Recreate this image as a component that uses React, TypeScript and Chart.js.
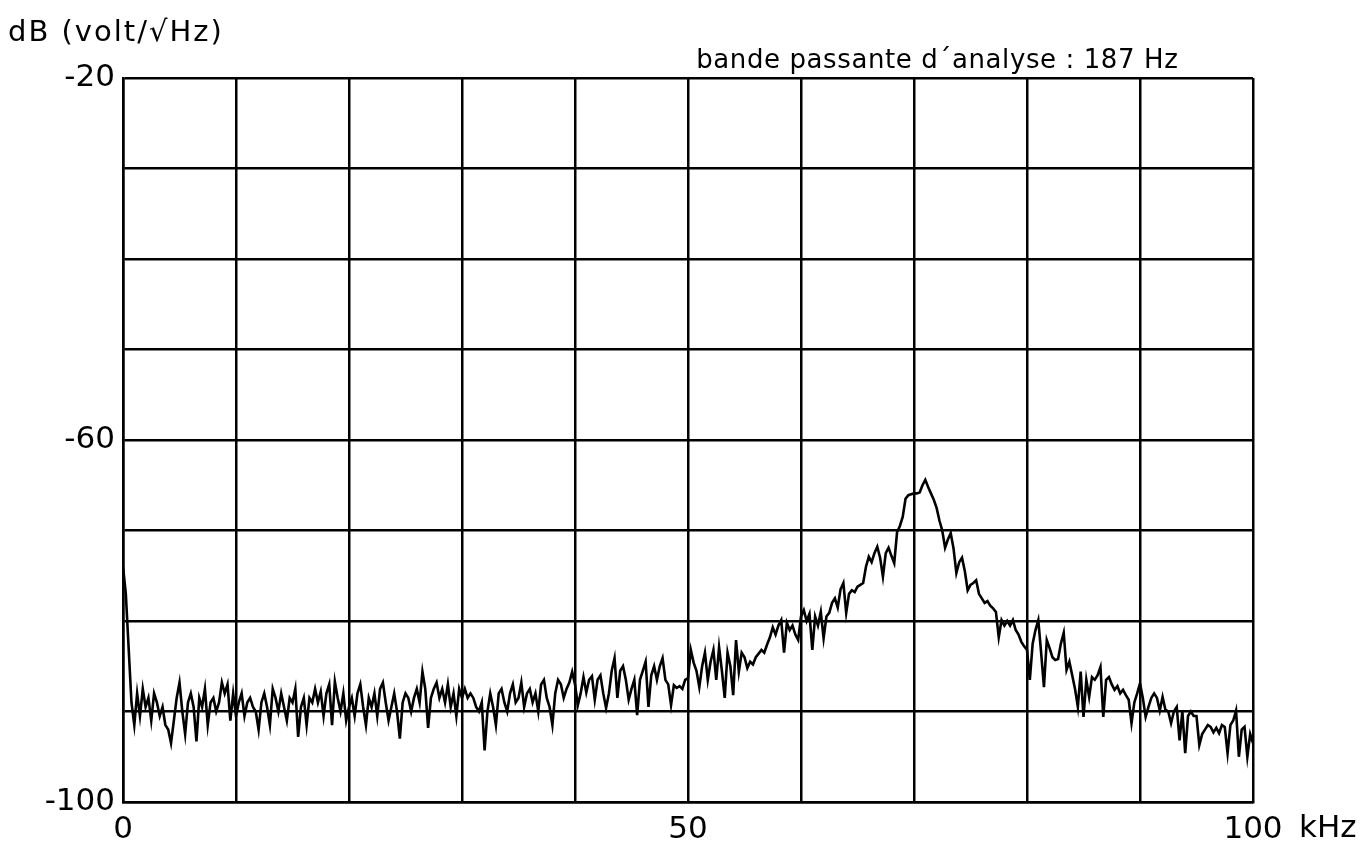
import React, { useEffect, useRef } from "react";
import { Chart, registerables } from "chart.js";

Chart.register(...registerables);

// Frequency sampling of the trace (kHz)
const FREQ_START_KHZ = 0;
const FREQ_STEP_KHZ = 0.25;

// Spectrum level (dB volt/√Hz), one value every 0.25 kHz
const LEVEL_00_10 = [
  -74, -77, -83, -89, -91.5, -88, -90.5, -87.5, -89.5, -88.5, -91, -88, -89, -90.5, -89.5, -91.5,
  -92, -93.5, -91, -88.5, -86.8, -90, -92.5, -89, -88, -89.5, -93.3, -88.5, -89.5, -87.5, -91.5,
  -89, -88.5, -90, -89, -86.8, -88, -87, -91, -88, -90.5,
];
const LEVEL_10_20 = [
  -89, -88, -90.5, -89, -88.5, -89.5, -90, -92, -89, -88, -89.5, -91.5, -87.5, -88.5, -90, -88,
  -89.5, -91, -88.5, -89, -87.5, -92.8, -89.5, -88.5, -91.5, -88.5, -89, -87.5, -89, -87.8, -90.5,
  -88, -87, -91.5, -86.7, -88.5, -90, -88, -91, -89.5,
];
const LEVEL_20_30 = [
  -88.5, -90.5, -88, -87, -89.5, -91.5, -88.5, -89.5, -88, -90.5, -87.5, -86.8, -89, -91, -89.5,
  -88, -90, -93, -89, -88, -88.5, -90, -88.5, -87.5, -89, -85.6, -87.5, -91.8, -88.5, -87.5, -86.8,
  -88.5, -87.5, -89, -87, -89.5, -88, -90.5, -87.5, -88.5,
];
const LEVEL_30_40 = [
  -87.5, -88.5, -88, -88.5, -89.5, -90, -89, -94.3, -90, -88, -89.5, -91.5, -88, -87.5, -89, -90,
  -88, -87, -89, -88.5, -86.8, -89.5, -88, -87.5, -89, -88, -90, -87, -86.5, -88.5, -89.5, -91.5,
  -88, -86.5, -87, -88.5, -87.5, -86.8, -85.6, -87,
];
const LEVEL_40_50 = [
  -89.3, -88, -86.2, -87.9, -86.5, -86.1, -88.7, -86.5, -86, -88, -89.6, -88, -85.5, -84.1, -88.5,
  -85.5, -85, -86.5, -88.7, -87.5, -86.5, -90.4, -86.5, -85.5, -84.5, -89.5, -86, -85, -86.5, -85,
  -84.1, -86.5, -87, -89.3, -87.1, -87.4, -87.2, -87.5, -86.5, -86.3,
];
const LEVEL_50_60 = [
  -83.2, -84.6, -85.5, -87.3, -85, -83.5, -86.5, -84.5, -83.2, -86.5, -82.9, -85.5, -88.5, -83.5,
  -85, -88.2, -82.1, -85.6, -83.5, -84, -85.2, -84.5, -84.8, -84, -83.6, -83.2, -83.5, -82.6, -81.8,
  -80.7, -81.5, -80.5, -79.9, -83.5, -80.2, -81, -80.5, -81.5, -82.1, -79.5,
];
const LEVEL_60_70 = [
  -78.8, -80, -79.2, -83.2, -79.5, -80.5, -79, -81.9, -79.5, -79.1, -78, -77.5, -78.5, -76.5, -75.8,
  -79.1, -77, -76.6, -76.8, -76.2, -76, -75.8, -74, -72.9, -73.5, -72.5, -71.8, -73, -75.1, -72.5,
  -71.9, -72.8, -73.6, -70.2, -69.5, -68.5, -66.5, -66.1, -66, -65.9,
];
const LEVEL_70_80 = [
  -65.9, -65.8, -65, -64.4, -65.2, -65.9, -66.6, -67.5, -68.9, -70, -71.9, -71, -70.3, -72, -74.7,
  -73.5, -73, -74.5, -76.6, -76, -75.8, -75.5, -77, -77.5, -78, -77.8, -78.3, -78.6, -79, -81.8,
  -79.9, -80.5, -80, -80.5, -79.9, -81, -81.5, -82.3, -82.8, -83.2,
];
const LEVEL_80_90 = [
  -86.5, -82.5, -81, -79.9, -83.5, -87.3, -82.1, -83, -84, -84.3, -84.2, -82.5, -81.3, -85.4, -84.5,
  -86, -87.5, -89.5, -85.6, -90.6, -86.5, -88.4, -86.2, -86.5, -86, -85.1, -90.6, -86.5, -86.2, -87,
  -87.6, -87.2, -88, -87.6, -88.2, -88.7, -91.3, -89, -88, -86.9,
];
const LEVEL_90_100 = [
  -88.5, -90.6, -89.5, -88.5, -88, -88.5, -89.9, -88.4, -89.8, -90, -91.3, -90, -89.5, -93.2, -90,
  -94.6, -90.5, -90, -90.5, -90.5, -93.7, -92.5, -92, -91.5, -91.7, -92.3, -91.8, -92.4, -91.5,
  -91.7, -94.6, -91.5, -91, -89.9, -95, -92, -91.7, -95, -92.5, -93.5,
];

const LEVEL_DB = [
  ...LEVEL_00_10,
  ...LEVEL_10_20,
  ...LEVEL_20_30,
  ...LEVEL_30_40,
  ...LEVEL_40_50,
  ...LEVEL_50_60,
  ...LEVEL_60_70,
  ...LEVEL_70_80,
  ...LEVEL_80_90,
  ...LEVEL_90_100,
];

const Y_LABELED_TICKS = [-20, -60, -100];
const X_LABELED_TICKS = [0, 50, 100];
const Y_UNIT_TEXT = "dB (volt/√Hz)";
const X_UNIT_TEXT = "kHz";
const NOTE_TEXT = "bande passante d´analyse : 187 Hz";

const FONT = "'DejaVu Sans', sans-serif";

const textPlugin = {
  id: "plotterTexts",
  afterDraw(chart: any) {
    const { ctx, chartArea, scales } = chart;
    ctx.save();
    ctx.fillStyle = "#000";
    ctx.textBaseline = "alphabetic";
    ctx.textAlign = "left";
    ctx.font = `29px ${FONT}`;
    (ctx as any).letterSpacing = "2px";
    ctx.fillText(Y_UNIT_TEXT, 8, 41);
    ctx.font = `26px ${FONT}`;
    (ctx as any).letterSpacing = "0.6px";
    ctx.textAlign = "right";
    ctx.fillText(NOTE_TEXT, chartArea.left + (chartArea.right - chartArea.left) * 0.934, 68);
    (ctx as any).letterSpacing = "0px";
    ctx.font = `31px ${FONT}`;
    ctx.textAlign = "left";
    ctx.textBaseline = "top";
    const xr = scales.x.getPixelForValue(100);
    ctx.fillText(X_UNIT_TEXT, xr + 46, 813);
    ctx.restore();
  },
};

export default function App() {
  const ref = useRef<HTMLCanvasElement>(null);
  useEffect(() => {
    if (!ref.current) return;
    const points = LEVEL_DB.map((v, i) => ({ x: FREQ_START_KHZ + i * FREQ_STEP_KHZ, y: v }));
    const chart = new Chart(ref.current, {
      type: "line",
      data: {
        datasets: [
          {
            data: points,
            borderColor: "#000",
            borderWidth: 2.6,
            pointRadius: 0,
            tension: 0,
            fill: false,
          },
        ],
      },
      options: {
        responsive: false,
        animation: false,
        devicePixelRatio: 1,
        layout: { padding: { top: 78, right: 117, left: 0, bottom: 0 } },
        plugins: { legend: { display: false }, tooltip: { enabled: false } },
        scales: {
          x: {
            type: "linear",
            min: 0,
            max: 100,
            afterFit: (s: any) => {
              s.height = 44;
            },
            border: { display: true, color: "#000", width: 2.5 },
            grid: { color: "#000", lineWidth: 2.5, drawTicks: false },
            ticks: {
              stepSize: 10,
              autoSkip: false,
              maxRotation: 0,
              padding: 9,
              color: "#000",
              font: { family: FONT, size: 31 },
              callback: (v: any) => (X_LABELED_TICKS.includes(Number(v)) ? String(v) : ""),
            },
          },
          y: {
            type: "linear",
            min: -100,
            max: -20,
            afterFit: (s: any) => {
              s.width = 123;
            },
            border: { display: true, color: "#000", width: 2.5 },
            grid: { color: "#000", lineWidth: 2.5, drawTicks: false },
            ticks: {
              stepSize: 10,
              autoSkip: false,
              padding: 8,
              color: "#000",
              font: { family: FONT, size: 31 },
              callback: (v: any) => (Y_LABELED_TICKS.includes(Number(v)) ? String(v) : ""),
            },
          },
        },
      },
      plugins: [textPlugin],
    });
    return () => chart.destroy();
  }, []);
  return (
    <div style={{ position: "fixed", left: 0, top: 0, width: 1370, height: 846, background: "#fff" }}>
      <canvas ref={ref} width={1370} height={846} />
    </div>
  );
}
